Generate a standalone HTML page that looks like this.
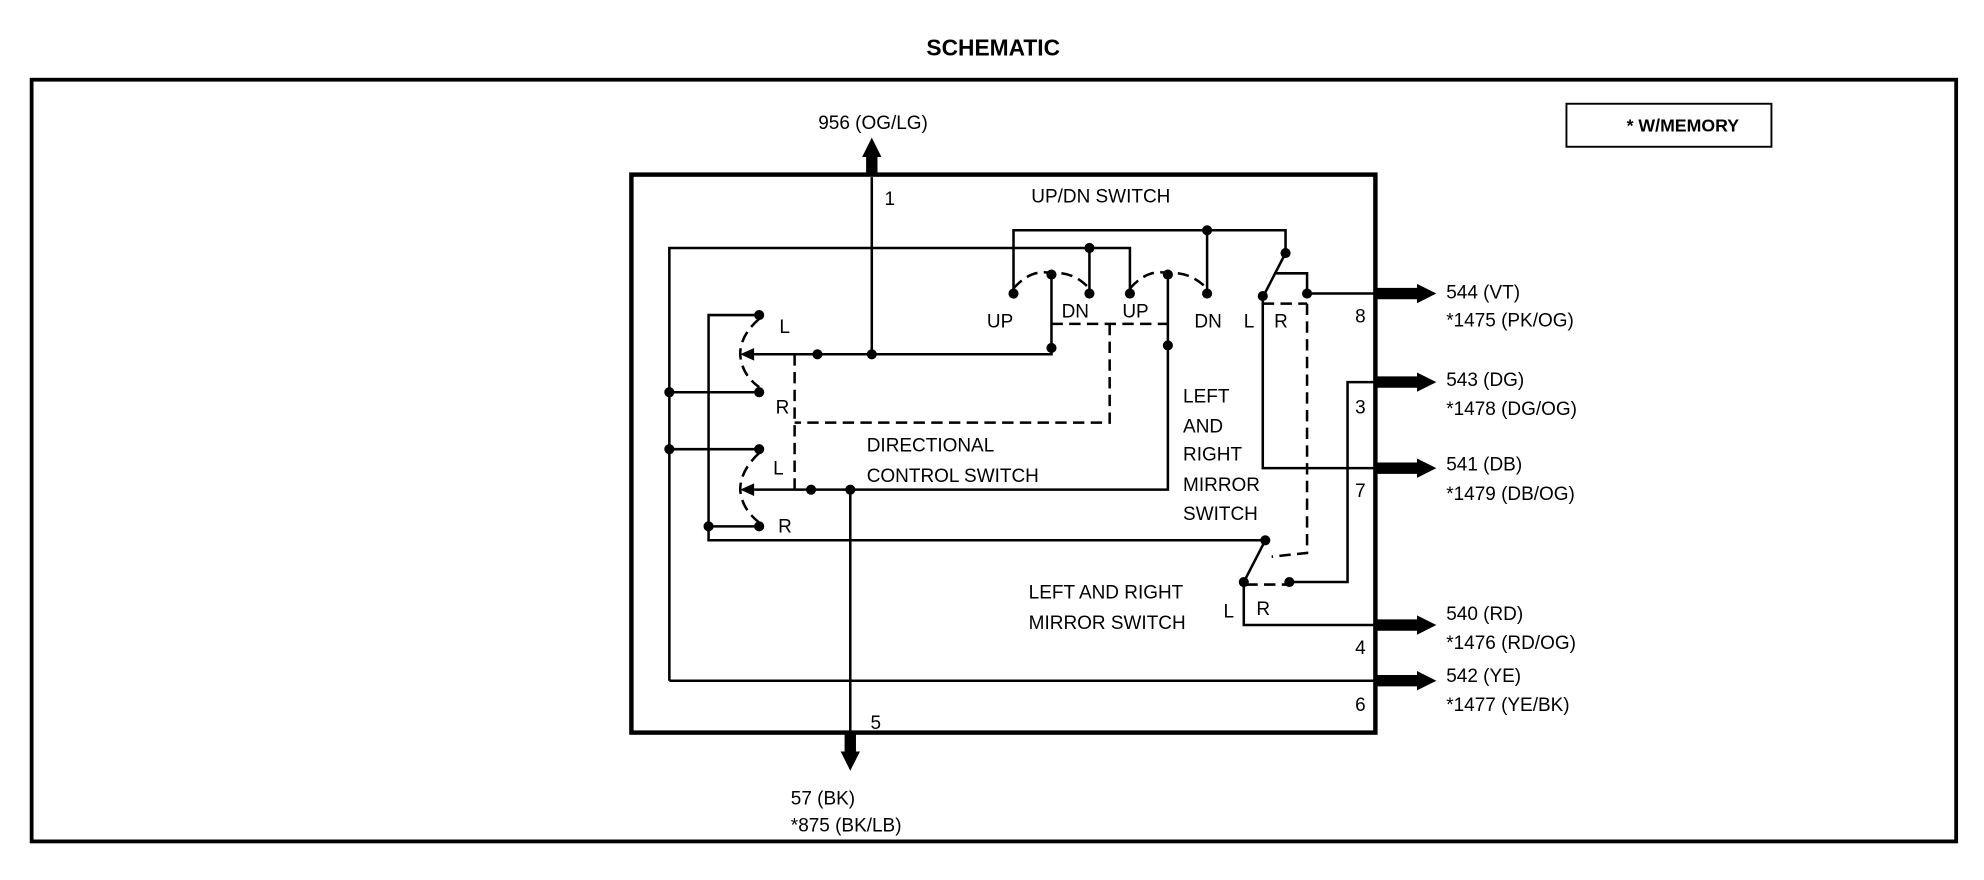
<!DOCTYPE html>
<html><head><meta charset="utf-8"><style>
html,body{margin:0;padding:0;background:#fff;}
svg{display:block;}
text{font-family:"Liberation Sans",Arial,sans-serif;font-size:15px;fill:#000;}
</style></head><body>
<svg width="1984" height="880" viewBox="0 0 1568 695.5" preserveAspectRatio="none" xmlns="http://www.w3.org/2000/svg">
<defs>
<marker id="ah" viewBox="0 0 10 10" refX="4" refY="5" markerWidth="1.7" markerHeight="1.9" orient="auto"><path d="M0,0 L10,5 L0,10 z" fill="#000"/></marker>
</defs>
<text x="785" y="44" text-anchor="middle" style="font-weight:bold;font-size:18px">SCHEMATIC</text>
<rect x="25" y="63" width="1521" height="602" fill="none" stroke="#000" stroke-width="3"/>
<rect x="1238" y="82" width="162" height="34" fill="none" stroke="#000" stroke-width="1.5"/>
<text x="1330" y="104" text-anchor="middle" style="font-weight:bold;font-size:14px">* W/MEMORY</text>
<rect x="499" y="138" width="588" height="441" fill="none" stroke="#000" stroke-width="3.5"/>

<g stroke="#000" stroke-width="2" fill="none">
<line x1="689" y1="140" x2="689" y2="280"/>
<polyline points="529,538 529,196 893,196 893,232"/>
<line x1="861" y1="196" x2="861" y2="232"/>
<polyline points="801,232 801,182 1016,182 1016,200"/>
<line x1="954" y1="182" x2="954" y2="232"/>
<polyline points="831,217 831,280 596,280"/>
<polyline points="923,217 923,387 596,387"/>
<polyline points="600,249 560,249 560,427 998,427"/>
<line x1="529" y1="310" x2="600" y2="310"/>
<line x1="529" y1="355" x2="600" y2="355"/>
<line x1="560" y1="416" x2="600" y2="416"/>
<line x1="1016" y1="200" x2="998" y2="235"/>
<polyline points="1007,216 1033,216 1033,232"/>
<line x1="1033" y1="232" x2="1087" y2="232"/>
<polyline points="998,235 998,370 1087,370"/>
<polyline points="1087,302 1065,302 1065,460 1019,460"/>
<line x1="1000" y1="427" x2="983" y2="460"/>
<polyline points="983,460 983,494 1087,494"/>
<line x1="529" y1="538" x2="1087" y2="538"/>
<line x1="672" y1="387" x2="672" y2="579"/>
</g>
<g stroke="#000" stroke-width="2" fill="none" stroke-dasharray="9,5">
<line x1="831" y1="256" x2="923" y2="256"/>
<polyline points="877,256 877,334 628,334"/>
<line x1="628" y1="280" x2="628" y2="387"/>
<path d="M801,228 Q815,212 831,216 Q848,214 861,228"/>
<path d="M893,228 Q907,212 923,216 Q940,214 954,228"/>
<path d="M600,252 Q585,265 585,280 Q586,296 600,306"/>
<path d="M600,358 Q585,372 585,387 Q586,402 600,413"/>
<line x1="998" y1="240" x2="1033" y2="240"/>
<polyline points="1033,240 1033,437 1005,440"/>
<line x1="985" y1="462" x2="1017" y2="462"/>
</g>
<g fill="#000">
<path d="M585,280 L596,275 L596,285 z"/>
<path d="M585,387 L596,382 L596,392 z"/>
</g>
<g fill="#000">
<circle cx="646" cy="280" r="4"/><circle cx="689" cy="280" r="4"/><circle cx="831" cy="275" r="4"/>
<circle cx="861" cy="196" r="4"/><circle cx="954" cy="182" r="4"/>
<circle cx="801" cy="232" r="4"/><circle cx="861" cy="232" r="4"/><circle cx="893" cy="232" r="4"/><circle cx="954" cy="232" r="4"/>
<circle cx="831" cy="217" r="4"/><circle cx="923" cy="217" r="4"/><circle cx="923" cy="273" r="4"/>
<circle cx="641" cy="387" r="4"/><circle cx="672" cy="387" r="4"/>
<circle cx="600" cy="249" r="4"/><circle cx="600" cy="310" r="4"/><circle cx="600" cy="355" r="4"/><circle cx="600" cy="416" r="4"/>
<circle cx="529" cy="310" r="4"/><circle cx="529" cy="355" r="4"/><circle cx="560" cy="416" r="4"/>
<circle cx="1016" cy="200" r="4"/><circle cx="998" cy="234" r="4"/><circle cx="1033" cy="232" r="4"/>
<circle cx="1000" cy="427" r="4"/><circle cx="983" cy="460" r="4"/><circle cx="1019" cy="460" r="4"/>
</g>
<g stroke="#000" stroke-width="9" fill="none" marker-end="url(#ah)">
<line x1="689" y1="138" x2="689" y2="118"/>
<line x1="672" y1="579" x2="672" y2="600"/>
<line x1="1087" y1="232" x2="1126" y2="232"/>
<line x1="1087" y1="302" x2="1126" y2="302"/>
<line x1="1087" y1="370" x2="1126" y2="370"/>
<line x1="1087" y1="494" x2="1126" y2="494"/>
<line x1="1087" y1="538" x2="1126" y2="538"/>
</g>
<text x="690" y="102" text-anchor="middle">956 (OG/LG)</text>
<text x="699" y="162">1</text>
<text x="870" y="160" text-anchor="middle">UP/DN SWITCH</text>
<text x="780" y="259">UP</text><text x="839" y="251">DN</text><text x="887" y="251">UP</text><text x="944" y="259">DN</text>
<text x="983" y="259">L</text><text x="1007" y="259">R</text>
<text x="616" y="263">L</text><text x="613" y="327">R</text><text x="611" y="375">L</text><text x="615" y="421">R</text>
<text x="685" y="357">DIRECTIONAL</text><text x="685" y="381">CONTROL  SWITCH</text>
<text x="935" y="318">LEFT</text><text x="935" y="342">AND</text><text x="935" y="364">RIGHT</text><text x="935" y="388">MIRROR</text><text x="935" y="411">SWITCH</text>
<text x="813" y="473">LEFT AND RIGHT</text><text x="813" y="497">MIRROR SWITCH</text>
<text x="967" y="488">L</text><text x="993" y="486">R</text>
<text x="1071" y="255">8</text><text x="1071" y="327">3</text><text x="1071" y="393">7</text><text x="1071" y="517">4</text><text x="1071" y="562">6</text>
<text x="688" y="576">5</text>
<text x="1143" y="236">544 (VT)</text><text x="1143" y="258">*1475 (PK/OG)</text>
<text x="1143" y="305">543 (DG)</text><text x="1143" y="328">*1478 (DG/OG)</text>
<text x="1143" y="372">541 (DB)</text><text x="1143" y="395">*1479 (DB/OG)</text>
<text x="1143" y="490">540 (RD)</text><text x="1143" y="513">*1476 (RD/OG)</text>
<text x="1143" y="539">542 (YE)</text><text x="1143" y="562">*1477 (YE/BK)</text>
<text x="625" y="636">57 (BK)</text><text x="625" y="657">*875 (BK/LB)</text>
</svg>
</body></html>
